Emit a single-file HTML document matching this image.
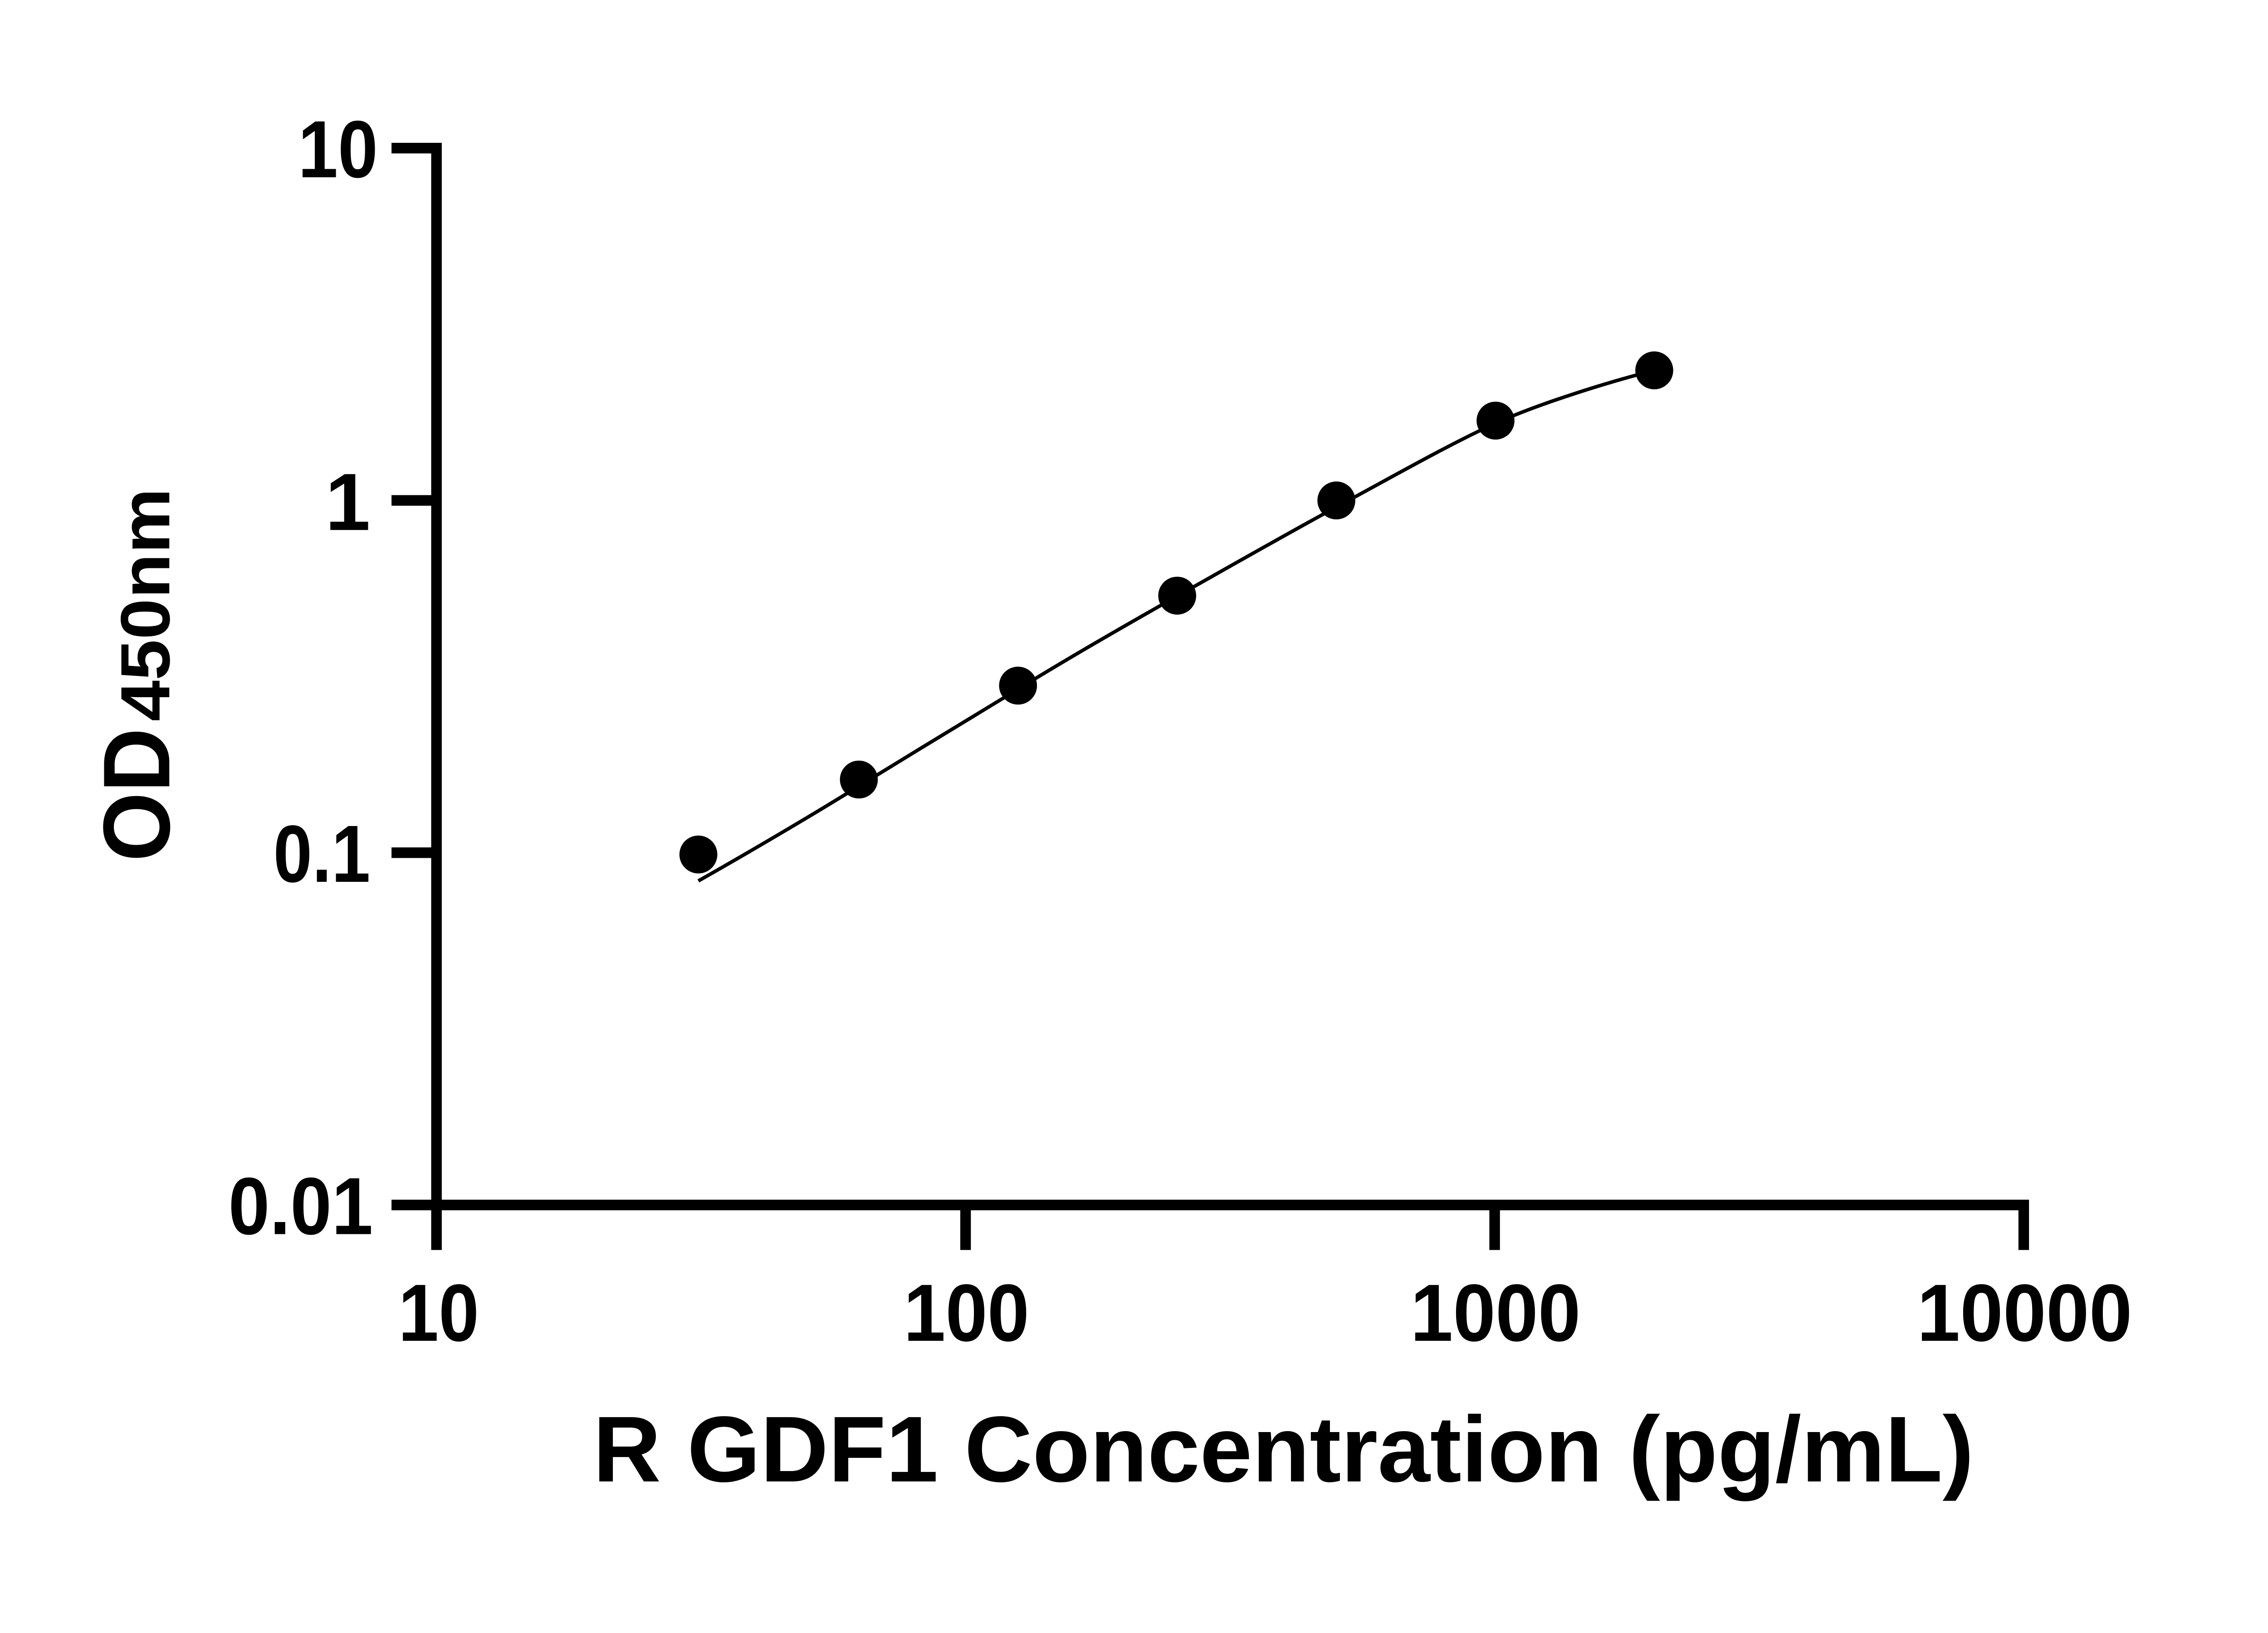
<!DOCTYPE html>
<html><head><meta charset="utf-8"><style>html,body{margin:0;padding:0;background:#fff}svg{display:block}</style></head>
<body>
<svg width="5142" height="3600" viewBox="0 0 5142 3600" xmlns="http://www.w3.org/2000/svg" font-family="Liberation Sans, Arial, sans-serif" font-weight="bold" fill="#000">
<rect width="5142" height="3600" fill="#fff"/>
<g transform="scale(0.972)">
<g stroke="#000" stroke-width="24" fill="none" stroke-linecap="butt">
<path d="M888,336 H1002 M990,324 V2745 M888,1135 H990 M888,1934 H990 M888,2733 H4602 M990,2733 V2835 M2190,2733 V2835 M3390,2733 V2835 M4590,2733 V2835"/>
</g>
<g font-size="184">
<text x="857" y="402" text-anchor="end" textLength="181" lengthAdjust="spacingAndGlyphs">10</text>
<text x="840" y="1202" text-anchor="end">1</text>
<text x="840" y="2000" text-anchor="end" textLength="220" lengthAdjust="spacingAndGlyphs">0.1</text>
<text x="846" y="2799" text-anchor="end" textLength="328" lengthAdjust="spacingAndGlyphs">0.01</text>
<text x="995" y="3041" text-anchor="middle" textLength="183" lengthAdjust="spacingAndGlyphs">10</text>
<text x="2192" y="3041" text-anchor="middle" textLength="285" lengthAdjust="spacingAndGlyphs">100</text>
<text x="3392" y="3041" text-anchor="middle" textLength="386" lengthAdjust="spacingAndGlyphs">1000</text>
<text x="4592" y="3041" text-anchor="middle" textLength="488" lengthAdjust="spacingAndGlyphs">10000</text>
</g>
<text x="1345" y="3360" font-size="212" textLength="3132" lengthAdjust="spacingAndGlyphs">R GDF1 Concentration (pg/mL)</text>
<text transform="translate(384,1954) rotate(-90)"><tspan font-size="215" textLength="303" lengthAdjust="spacingAndGlyphs">OD</tspan><tspan font-size="158" dx="15" textLength="529" lengthAdjust="spacingAndGlyphs">450nm</tspan></text>
<path fill="none" stroke="#000" stroke-width="8" d="M1584,1998 C1700,1932 1830,1856 1948,1783 S2200,1630 2309,1563 S2560,1414 2670,1352 S2920,1210 3031,1150 S3290,1006 3392,960 S3650,866 3752,840"/>
<g>
<circle cx="1584" cy="1938" r="43"/>
<circle cx="1948" cy="1768" r="43"/>
<circle cx="2309" cy="1555" r="43"/>
<circle cx="2670" cy="1351" r="43"/>
<circle cx="3031" cy="1135" r="43"/>
<circle cx="3392" cy="954" r="43"/>
<circle cx="3752" cy="840" r="43"/>
</g>
</g>
</svg>
</body></html>
